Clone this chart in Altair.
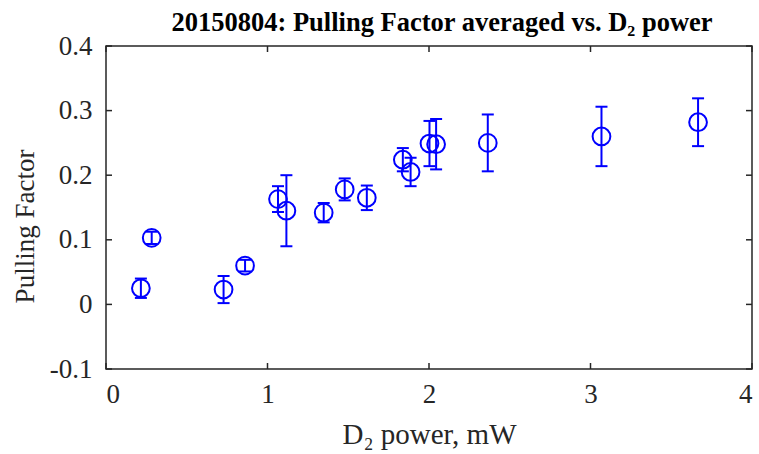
import altair as alt
import pandas as pd

# data
power = [0.216, 0.283, 0.728, 0.861, 1.065, 1.117, 1.348, 1.478, 1.615, 1.838,
         1.886, 2.003, 2.044, 2.364, 3.068, 3.666]
pulling = [0.025, 0.103, 0.023, 0.060, 0.163, 0.145, 0.142, 0.178, 0.165, 0.224,
           0.205, 0.249, 0.248, 0.250, 0.260, 0.282]
err = [0.015, 0.0095, 0.021, 0.009, 0.020, 0.055, 0.015, 0.017, 0.019, 0.018,
       0.022, 0.035, 0.039, 0.044, 0.046, 0.037]
x_ticks = [0, 1, 2, 3, 4]
y_ticks = [-0.1, 0, 0.1, 0.2, 0.3, 0.4]

df = pd.DataFrame({"x": power, "y": pulling, "e": err})
df["lo"] = df["y"] - df["e"]
df["hi"] = df["y"] + df["e"]

FONT = "Liberation Serif"
BLUE = "#0000FF"
AX = "#262626"
W, H = 646, 323

xs = alt.Scale(domain=[0, 4], nice=False, zero=False)
ys = alt.Scale(domain=[-0.1, 0.4], nice=False, zero=False)

xaxis = alt.Axis(values=x_ticks, labelExpr="'' + datum.value", grid=False, domain=False,
                 ticks=False, labelFont=FONT, labelFontSize=27, labelColor=AX,
                 labelPadding=12, title="D₂ power, mW", titleFont=FONT,
                 titleFontSize=29, titleFontWeight="normal", titleColor=AX,
                 titleY=74, titleBaseline="alphabetic")
yaxis = alt.Axis(values=y_ticks, labelExpr="'' + datum.value", grid=False, domain=False,
                 ticks=False, labelFont=FONT, labelFontSize=27, labelColor=AX,
                 labelPadding=14, title="Pulling Factor", titleFont=FONT,
                 titleFontSize=27, titleFontWeight="normal", titleColor=AX,
                 titleX=-73, titleY=180, titleAlign="center", titleBaseline="alphabetic")

base = alt.Chart(df)

bars = base.mark_rule(color=BLUE, strokeWidth=2).encode(
    x=alt.X("x:Q", scale=xs, axis=xaxis),
    y=alt.Y("lo:Q", scale=ys, axis=yaxis),
    y2="hi:Q",
)
cap_hi = base.mark_rule(color=BLUE, strokeWidth=2, xOffset=-6, x2Offset=6).encode(
    x="x:Q", x2="x:Q", y="hi:Q")
cap_lo = base.mark_rule(color=BLUE, strokeWidth=2, xOffset=-6, x2Offset=6).encode(
    x="x:Q", x2="x:Q", y="lo:Q")
pts = base.mark_point(shape="circle", filled=False, size=314, strokeWidth=2,
                      color=BLUE, opacity=1).encode(x="x:Q", y="y:Q")

xt = alt.Chart(pd.DataFrame({"t": x_ticks}))
yt = alt.Chart(pd.DataFrame({"t": y_ticks}))
tick_b = xt.mark_rule(color=AX, strokeWidth=1.5, y2Offset=-6).encode(
    x="t:Q", y=alt.datum(-0.1), y2=alt.datum(-0.1))
tick_t = xt.mark_rule(color=AX, strokeWidth=1.5, y2Offset=6).encode(
    x="t:Q", y=alt.datum(0.4), y2=alt.datum(0.4))
tick_l = yt.mark_rule(color=AX, strokeWidth=1.5, x2Offset=6).encode(
    y="t:Q", x=alt.datum(0), x2=alt.datum(0))
tick_r = yt.mark_rule(color=AX, strokeWidth=1.5, x2Offset=-6).encode(
    y="t:Q", x=alt.datum(4), x2=alt.datum(4))

chart = alt.layer(tick_b, tick_t, tick_l, tick_r, bars, cap_hi, cap_lo, pts).properties(
    width=W, height=H,
    title=alt.TitleParams("20150804: Pulling Factor averaged vs. D₂ power", font=FONT,
                          fontSize=26.5, fontWeight="bold", color="#000000",
                          anchor="middle", offset=-4, dx=13),
    autosize=alt.AutoSizeParams(type="none"),
    padding={"left": 106, "top": 46, "right": 759 - 106 - W, "bottom": 454 - 46 - H},
).configure_view(stroke=AX, strokeWidth=1.5)

chart.save("out.html", embed_options={"renderer": "svg", "actions": False})
